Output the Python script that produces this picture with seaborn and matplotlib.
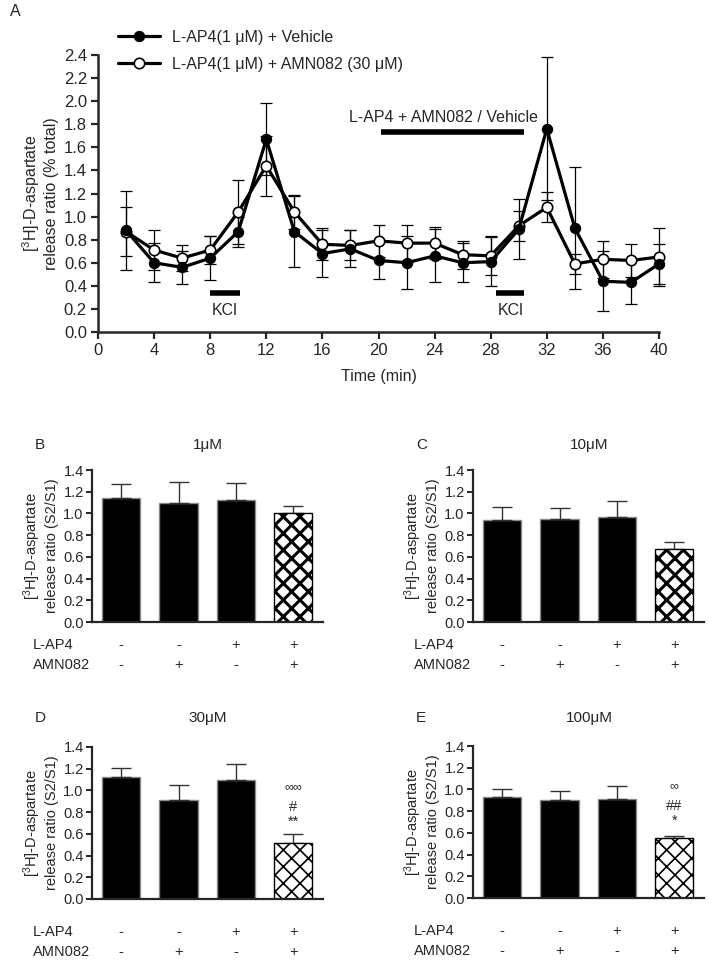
import matplotlib
matplotlib.use("Agg")
import matplotlib.pyplot as plt
import matplotlib.transforms as mtransforms
import seaborn as sns

sns.set_style("ticks")
plt.rcParams["font.family"] = ["Liberation Sans", "DejaVu Sans"]
plt.rcParams["mathtext.fontset"] = "custom"
plt.rcParams["mathtext.rm"] = "Liberation Sans"
plt.rcParams["mathtext.it"] = "Liberation Sans"
plt.rcParams["hatch.linewidth"] = 1.6

W, H = 709, 960

# ---- panel A data (time course) ----
time = [2, 4, 6, 8, 10, 12, 14, 16, 18, 20, 22, 24, 26, 28, 30, 32, 34, 36, 38, 40]
vehicle = [0.88, 0.60, 0.56, 0.64, 0.87, 1.67, 0.87, 0.68, 0.72, 0.62,
           0.60, 0.66, 0.60, 0.61, 0.89, 1.76, 0.90, 0.44, 0.43, 0.59]
vehicle_err = [0.34, 0.17, 0.14, 0.19, 0.13, 0.31, 0.31, 0.20, 0.16, 0.16,
               0.23, 0.23, 0.17, 0.21, 0.26, 0.62, 0.53, 0.26, 0.19, 0.17]
amn = [0.87, 0.71, 0.64, 0.71, 1.04, 1.44, 1.04, 0.76, 0.75, 0.79,
       0.77, 0.77, 0.67, 0.66, 0.92, 1.08, 0.59, 0.63, 0.62, 0.65]
amn_err = [0.21, 0.17, 0.11, 0.12, 0.28, 0.26, 0.15, 0.14, 0.13, 0.14,
           0.16, 0.14, 0.12, 0.17, 0.13, 0.13, 0.09, 0.16, 0.14, 0.25]
legend_labels = ["L-AP4(1 μM) + Vehicle", "L-AP4(1 μM) + AMN082 (30 μM)"]
kcl_periods = [(8.0, 10.1), (28.4, 30.4)]
drug_period = (20.2, 30.4)

# ---- panels B-E data (S2/S1 ratios) ----
conc_titles = ["1μM", "10μM", "30μM", "100μM"]
panel_letters = ["B", "C", "D", "E"]
ratio_means = [
    [1.14, 1.10, 1.12, 1.00],
    [0.94, 0.95, 0.97, 0.67],
    [1.12, 0.91, 1.10, 0.52],
    [0.93, 0.90, 0.91, 0.55],
]
ratio_err = [
    [0.13, 0.19, 0.16, 0.07],
    [0.12, 0.10, 0.14, 0.07],
    [0.09, 0.14, 0.14, 0.08],
    [0.07, 0.09, 0.12, 0.02],
]
sig_marks = [None, None, ["∞∞", "#", "**"], ["∞", "##", "*"]]
lap4_row = ["-", "-", "+", "+"]
amn_row = ["-", "+", "-", "+"]


def px(x, y):
    return x / W, 1 - y / H


fig = plt.figure(figsize=(W / 100, H / 100), dpi=100)

# ================= Panel A =================
axA = fig.add_axes([98 / W, 1 - 332 / H, (659 - 98) / W, (332 - 55) / H])
axA.errorbar(time, vehicle, yerr=vehicle_err, fmt="none", ecolor="black",
             elinewidth=0.9, capsize=4, capthick=0.9, zorder=2, clip_on=False)
axA.errorbar(time, amn, yerr=amn_err, fmt="none", ecolor="black",
             elinewidth=0.9, capsize=4, capthick=0.9, zorder=2, clip_on=False)
sns.lineplot(x=time, y=vehicle, ax=axA, color="black", lw=2.3, marker="o",
             markersize=7, markerfacecolor="black", markeredgecolor="black",
             markeredgewidth=1.2, label=legend_labels[0], zorder=4, clip_on=False)
sns.lineplot(x=time, y=amn, ax=axA, color="black", lw=2.3, marker="o",
             markersize=7.5, markerfacecolor="white", markeredgecolor="black",
             markeredgewidth=1.2, label=legend_labels[1], zorder=3, clip_on=False)

for x0, x1 in kcl_periods:
    axA.hlines(0.34, x0, x1, color="black", lw=4)
    axA.text((x0 + x1) / 2, 0.19, "KCl", ha="center", va="center", fontsize=11.5)
axA.hlines(1.73, drug_period[0], drug_period[1], color="black", lw=4)
axA.text(24.6, 1.86, "L-AP4 + AMN082 / Vehicle", ha="center", va="center", fontsize=11.5)

axA.set_xlim(0, 40)
axA.set_ylim(0, 2.4)
axA.set_xticks(range(0, 41, 4))
axA.set_yticks([i / 10 for i in range(0, 25, 2)])
axA.set_yticklabels([f"{i / 10:.1f}" for i in range(0, 25, 2)])
axA.tick_params(labelsize=12, width=1.6, length=5, pad=3)
for s in ["left", "bottom"]:
    axA.spines[s].set_linewidth(1.8)
sns.despine(ax=axA)
axA.set_xlabel("Time (min)", fontsize=11.5, labelpad=8)
axA.set_ylabel("[$^3$H]-D-aspartate\nrelease ratio (% total)", fontsize=11.5, labelpad=3)
axA.legend(loc="upper left", bbox_to_anchor=px(118, 30), bbox_transform=fig.transFigure,
           frameon=False, fontsize=11.5, handlelength=2.6, handletextpad=0.8,
           labelspacing=0.75, borderpad=0, borderaxespad=0)
fig.text(*px(10, 12), "A", fontsize=11.5, ha="left", va="center")

# ================= Panels B-E =================
panel_boxes = [
    (92, 470, 622, 445, 23),
    (473, 470, 622, 445, 23),
    (92, 747, 899, 718, 33),
    (473, 746, 898, 718, 33),
]
for i, (left, top, bottom, title_y, row_off) in enumerate(panel_boxes):
    ax = fig.add_axes([left / W, 1 - bottom / H, 231 / W, (bottom - top) / H])
    cats = ["c1", "c2", "c3", "c4"]
    sns.barplot(x=cats, y=ratio_means[i], ax=ax, color="black", saturation=1,
                width=0.67, edgecolor="#8a8a8a", linewidth=1.0, errorbar=None)
    ax.errorbar(range(4), ratio_means[i], yerr=[[0] * 4, ratio_err[i]], fmt="none",
                ecolor="#333333", elinewidth=1.0, capsize=7, capthick=1.0, zorder=1)
    hp = ax.patches[3]
    hp.set_facecolor("white")
    hp.set_edgecolor("black")
    hp.set_hatch("xx")
    if hasattr(hp, "set_hatch_linewidth"):
        hp.set_hatch_linewidth(2.2 if i < 2 else 1.2)
    hp.set_zorder(2)

    ax.set_xlim(-0.51, 3.52)
    ax.set_ylim(0, 1.4)
    ax.set_yticks([j / 10 for j in range(0, 15, 2)])
    ax.set_yticklabels([f"{j / 10:.1f}" for j in range(0, 15, 2)])
    ax.set_xticks([])
    ax.set_xlabel("")
    ax.tick_params(axis="y", labelsize=10.5, width=1.4, length=4, pad=2)
    for s in ["left", "bottom"]:
        ax.spines[s].set_linewidth(1.6)
    sns.despine(ax=ax)
    ax.set_ylabel("[$^3$H]-D-aspartate\nrelease ratio (S2/S1)", fontsize=10.5, labelpad=3)

    if sig_marks[i] is not None:
        for txt, yv in zip(sig_marks[i], [1.03, 0.85, 0.71]):
            ax.text(3, yv, txt, ha="center", va="center", fontsize=9 if txt.startswith("∞") else 10.5)

    trans = mtransforms.blended_transform_factory(ax.transData, fig.transFigure)
    fig.text(*px(left - 59, bottom + row_off), "L-AP4", fontsize=10.5, ha="left", va="center")
    fig.text(*px(left - 59, bottom + row_off + 20), "AMN082", fontsize=10.5, ha="left", va="center")
    for k in range(4):
        ax.text(k, 1 - (bottom + row_off) / H, lap4_row[k], transform=trans,
                ha="center", va="center", fontsize=10.5)
        ax.text(k, 1 - (bottom + row_off + 20) / H, amn_row[k], transform=trans,
                ha="center", va="center", fontsize=10.5)

    fig.text(*px(left - 57, title_y), panel_letters[i], fontsize=11, ha="left", va="center")
    fig.text(*px(left + 116, title_y), conc_titles[i], fontsize=11, ha="center", va="center")

fig.savefig("out.png", dpi=100)
